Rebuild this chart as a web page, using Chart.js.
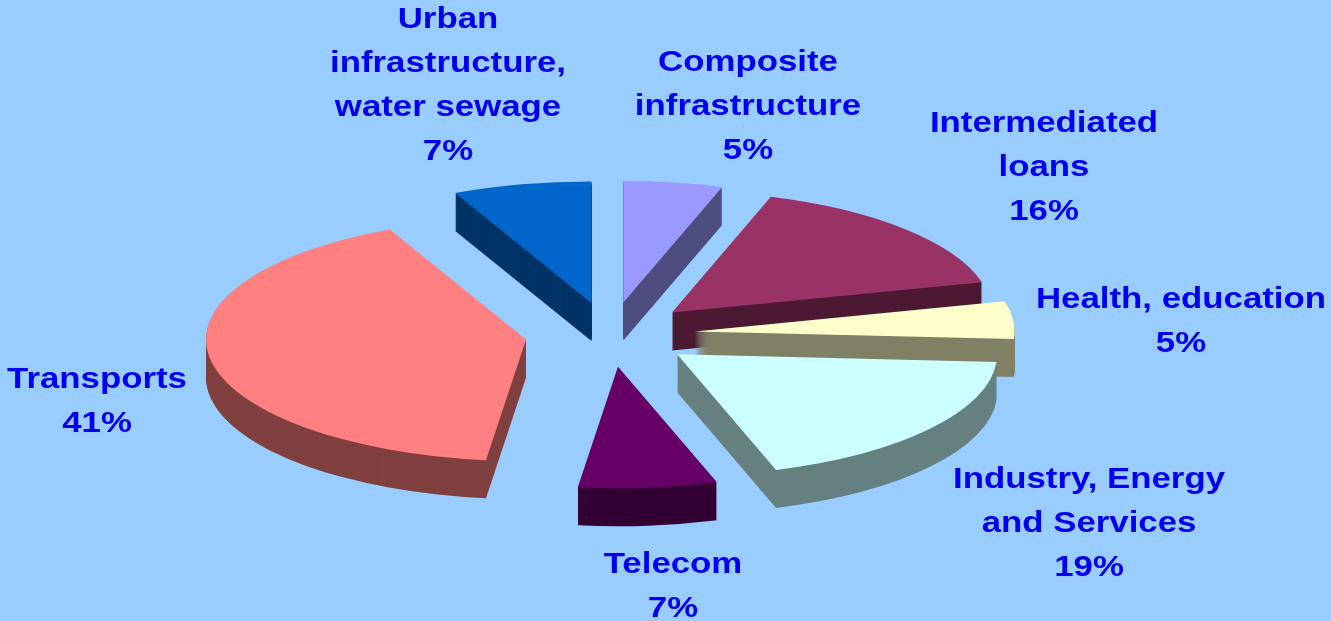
<!DOCTYPE html>
<html>
<head>
<meta charset="utf-8">
<script src="https://cdn.jsdelivr.net/npm/chart.js@4.4.1/dist/chart.umd.min.js"></script>
<style>
  html, body { margin: 0; padding: 0; background: #99CCFF; overflow: hidden; }
  #pie { display: block; }
</style>
</head>
<body>
<canvas id="pie" width="1331" height="621"></canvas>
<script>
// slices, clockwise from 12 o'clock
var categories = [
  'Composite\ninfrastructure',
  'Intermediated\nloans',
  'Health, education',
  'Industry, Energy\nand Services',
  'Telecom',
  'Transports',
  'Urban\ninfrastructure,\nwater sewage'
];
var shares = [5, 16, 5, 19, 7, 41, 7];

var topColors = ['#9999FF', '#993366', '#FFFFCC', '#CCFFFF', '#660066', '#FF8080', '#0066CC'];
// where each label's first line sits (baseline, centred)
var labelAt = [[748, 71], [1044, 132], [1181, 308], [1089, 488], [673, 573], [97, 388], [448, 28]];

function half(hex) {
  var n = parseInt(hex.slice(1), 16);
  var r = (n >> 16) & 255, g = (n >> 8) & 255, b = n & 255;
  return 'rgb(' + Math.round(r / 2) + ',' + Math.round(g / 2) + ',' + Math.round(b / 2) + ')';
}

// squash the pie into an ellipse, pull slices out and give them a side wall
var pie3d = {
  id: 'pie3d',
  beforeDatasetDraw: function(chart, args, opts) {
    var ctx = chart.ctx;
    var arcs = args.meta.data.slice();
    var cy = arcs[0].y;
    var mid = function(a) { return (a.startAngle + a.endAngle) / 2; };
    arcs.sort(function(a, b) { return Math.sin(mid(a)) - Math.sin(mid(b)); });

    arcs.forEach(function(arc) {
      var m = mid(arc);
      var dx = Math.cos(m) * opts.explode, dy = Math.sin(m) * opts.explode;
      var place = function(d) {
        ctx.translate(0, d + cy);
        ctx.scale(1, opts.tilt);
        ctx.translate(dx, dy - cy);
      };
      var own = arc.options;
      arc.options = Object.assign({}, own, {backgroundColor: half(own.backgroundColor)});
      for (var d = opts.depth; d > 0; d--) {
        ctx.save(); place(d); arc.draw(ctx); ctx.restore();
      }
      arc.options = own;
      ctx.save(); place(0); arc.draw(ctx); ctx.restore();
    });
    return false;
  },
  afterDraw: function(chart, args, opts) {
    var ctx = chart.ctx;
    var total = shares.reduce(function(s, v) { return s + v; }, 0);
    ctx.save();
    ctx.fillStyle = '#0000F0';
    ctx.font = 'bold 29px "Liberation Sans", Arial, sans-serif';
    ctx.textAlign = 'center';
    ctx.textBaseline = 'alphabetic';
    chart.data.labels.forEach(function(name, i) {
      var lines = name.split('\n');
      lines.push(Math.round(shares[i] / total * 100) + '%');
      lines.forEach(function(line, j) {
        ctx.save();
        ctx.translate(labelAt[i][0], labelAt[i][1] + j * 44);
        ctx.scale(1.2, 1);
        ctx.fillText(line, 0, 0);
        ctx.restore();
      });
    });
    ctx.restore();
  }
};

new Chart(document.getElementById('pie'), {
  type: 'pie',
  data: {
    labels: categories,
    datasets: [{
      data: shares,
      backgroundColor: topColors,
      borderWidth: 0,
      radius: 320
    }]
  },
  options: {
    responsive: false,
    devicePixelRatio: 1,
    animation: false,
    layout: { padding: { left: 0, right: 111, top: 48, bottom: 0 } },
    plugins: {
      legend: { display: false },
      tooltip: { enabled: false },
      pie3d: { tilt: 0.38, explode: 85, depth: 38 }
    }
  },
  plugins: [pie3d]
});
</script>
</body>
</html>
